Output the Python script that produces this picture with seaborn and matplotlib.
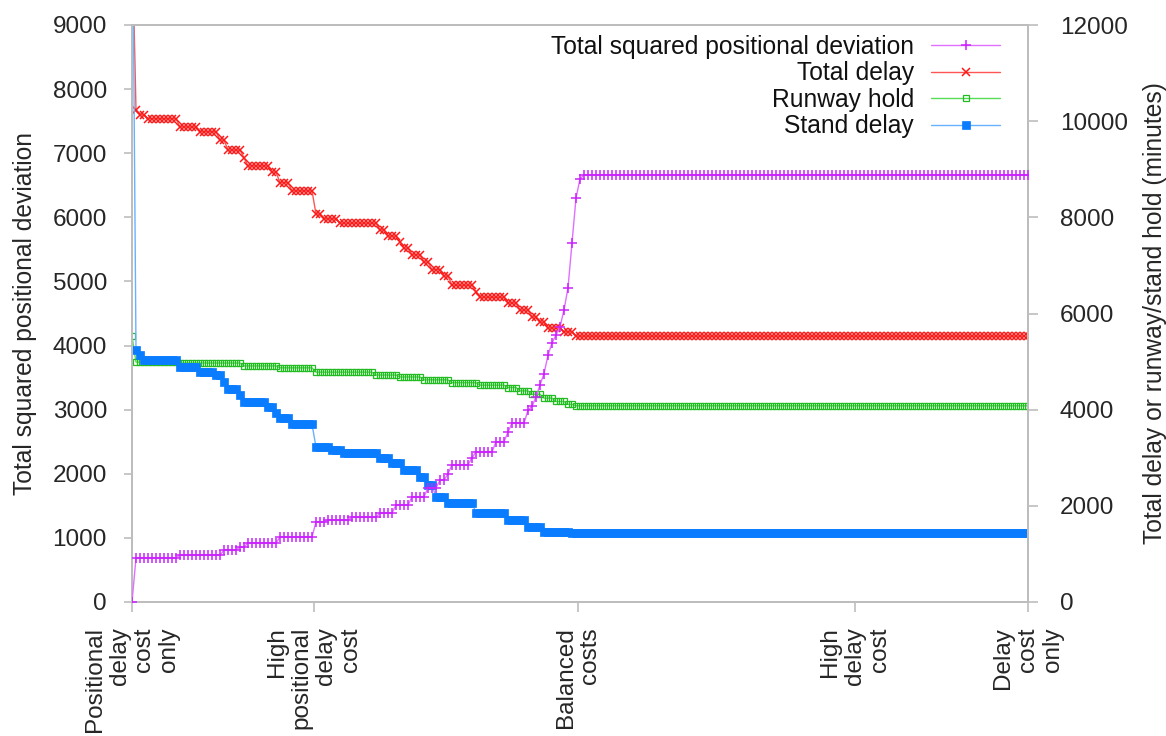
import numpy as np
import pandas as pd
import matplotlib
matplotlib.use("Agg")
import matplotlib.pyplot as plt
import seaborn as sns

# ---------------- data ----------------
tick_labels = ["Positional\ndelay\ncost\nonly",
               "High\npositional\ndelay\ncost",
               "Balanced\ncosts",
               "High\ndelay\ncost",
               "Delay\ncost\nonly"]
tick_positions = [0, 45.5, 111.5, 180.75, 224]

# run-length encoded series: value levels and number of consecutive samples
pos_dev_levels = [0, 690, 730, 810, 860, 920, 1015, 1250, 1280, 1320, 1390, 1510,
                  1640, 1780, 1900, 2000, 2140, 2250, 2340, 2500, 2650, 2790,
                  2990, 3050, 3200, 3385, 3560, 3850, 4040, 4165, 4290, 4555,
                  4900, 5600, 6300, 6600, 6660]
pos_dev_counts = [1, 11, 11, 4, 2, 8, 9, 3, 6, 7, 4, 4,
                  4, 3, 2, 1, 5, 1, 5, 3, 1, 4,
                  1, 1, 1, 1, 1, 1, 1, 1, 1, 1,
                  1, 1, 1, 1, 112]

delay_levels = [14000, 10230, 10130, 10050, 9880, 9780, 9610, 9400, 9240, 9070,
                8940, 8720, 8550, 8070, 7970, 7880, 7740, 7610, 7490, 7360,
                7220, 7070, 6910, 6780, 6590, 6450, 6340, 6220, 6070, 5930,
                5820, 5700, 5620, 5530]
delay_counts = [1, 1, 2, 8, 5, 5, 2, 4, 1, 6,
                2, 3, 6, 2, 4, 10, 2, 3, 1, 2,
                3, 2, 3, 2, 6, 1, 7, 3, 3, 2,
                2, 4, 3, 114]

runway_levels = [5530, 4990, 4970, 4910, 4870, 4780, 4720, 4680, 4620, 4560,
                 4510, 4460, 4390, 4320, 4240, 4170, 4110, 4080]
runway_counts = [1, 11, 16, 9, 9, 15, 6, 6, 7, 7,
                 7, 3, 3, 3, 3, 3, 2, 114]

stand_levels = [16000, 5240, 5140, 5030, 4890, 4780, 4720, 4580, 4430, 4300,
                4160, 4060, 3930, 3830, 3700, 3220, 3160, 3100, 3000, 2890,
                2750, 2600, 2430, 2180, 2060, 1850, 1710, 1560, 1460, 1430]
stand_counts = [1, 1, 1, 9, 5, 4, 2, 1, 3, 1,
                6, 2, 1, 3, 6, 4, 3, 9, 3, 3,
                4, 2, 2, 3, 7, 8, 5, 4, 7, 115]

pos_dev = np.repeat(pos_dev_levels, pos_dev_counts).astype(float)
delay = np.repeat(delay_levels, delay_counts).astype(float)
runway = np.repeat(runway_levels, runway_counts).astype(float)
stand = np.repeat(stand_levels, stand_counts).astype(float)
step = np.arange(len(delay))

df = pd.DataFrame({"step": step, "pos_dev": pos_dev, "delay": delay,
                   "runway": runway, "stand": stand})

# ---------------- styling ----------------
sns.set_theme(style="white")
plt.rcParams["font.family"] = ["Liberation Sans", "DejaVu Sans"]
plt.rcParams["text.color"] = "#111111"
FS = 17.5
FSL = 17.7

fig = plt.figure(figsize=(11.66, 7.36), dpi=100)
ax = fig.add_axes([132 / 1166, 1 - 602 / 736, (1028 - 132) / 1166, (602 - 25) / 736])
ax2 = ax.twinx()

sns.lineplot(data=df, x="step", y="pos_dev", ax=ax, color="#E070FF", linewidth=1.0,
             marker="+", markersize=7, markeredgewidth=1.1, markeredgecolor="#CC22FF",
             label="Total squared positional deviation", legend=False, zorder=3)
sns.lineplot(data=df, x="step", y="delay", ax=ax2, color="#FF5555", linewidth=1.0,
             marker="x", markersize=5.5, markeredgewidth=1.1, markeredgecolor="#FF1A1A",
             label="Total delay", legend=False)
sns.lineplot(data=df, x="step", y="runway", ax=ax2, color="#55DD55", linewidth=1.0,
             marker="s", markersize=4.5, markeredgewidth=0.9, markeredgecolor="#22BB22",
             markerfacecolor="none", label="Runway hold", legend=False)
sns.lineplot(data=df, x="step", y="stand", ax=ax2, color="#66B2FF", linewidth=1.0,
             marker="s", markersize=5.5, markeredgewidth=0.5, markeredgecolor="#0A7CFF",
             markerfacecolor="#0A7CFF", label="Stand delay", legend=False)

ax.set_zorder(ax2.get_zorder() + 1)
ax.patch.set_visible(False)

ax.set_xlim(0, 224)
ax.set_ylim(0, 9000)
ax2.set_ylim(0, 12000)
ax.set_yticks(np.arange(0, 9001, 1000))
ax2.set_yticks(np.arange(0, 12001, 2000))
ax.set_xticks(tick_positions)
ax.set_xticklabels(tick_labels, rotation=90, ha="center", va="top",
                   multialignment="right", linespacing=1.15)

ax.set_xlabel("")
ax.set_ylabel("Total squared positional deviation", fontsize=FSL, labelpad=11)
ax2.set_ylabel("Total delay or runway/stand hold (minutes)", fontsize=FSL, labelpad=11)

spine_col = "#BDBDBD"
for a in (ax, ax2):
    for s in a.spines.values():
        s.set_color(spine_col)
        s.set_linewidth(1.3)
    a.grid(False)

ax.tick_params(axis="y", which="both", left=True, length=6, width=1.2, color=spine_col,
               labelsize=FS, pad=12, direction="out")
ax.tick_params(axis="x", bottom=True, length=7, width=1.2, color=spine_col,
               labelsize=FS, pad=11, direction="out")
ax2.tick_params(axis="y", right=True, length=7, width=1.2, color=spine_col,
                labelsize=FS, pad=16, direction="out")

# legend combining both axes
handles = ax.get_lines()[:1] + ax2.get_lines()[:3]
labels = [h.get_label() for h in handles]
for a in (ax, ax2):
    if a.get_legend() is not None:
        a.get_legend().remove()
leg = ax.legend(handles, labels, loc="upper right", markerfirst=False, frameon=False,
                fontsize=FSL, handlelength=2.8, labelspacing=0.1, borderpad=0,
                borderaxespad=0, handletextpad=0.7,
                bbox_to_anchor=(1000 / 1166, 1 - 35 / 736),
                bbox_transform=fig.transFigure)

fig.savefig("out.png", dpi=100)
